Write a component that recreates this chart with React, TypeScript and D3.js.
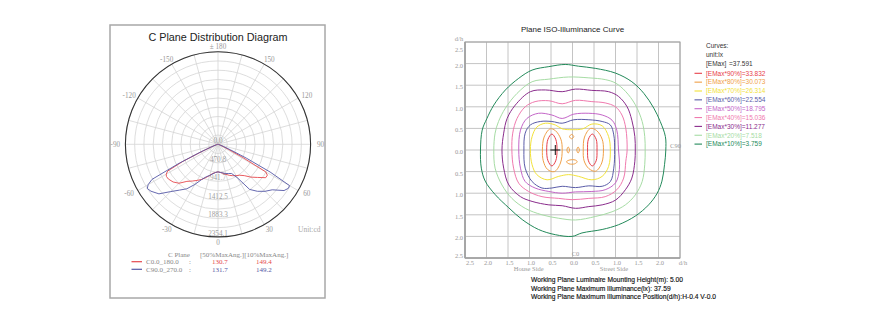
import React from 'react';
import * as d3 from 'd3';

// ---------- Polar (C plane) data ----------
const polarAngles = [0, 5, 10, 15, 20, 25, 30, 35, 40, 45, 50, 55, 58, 60, 62, 64, 66, 68, 70, 75, 80, 90];
const c0Values = [700, 720, 750, 790, 840, 880, 920, 960, 1040, 1180, 1310, 1480, 1480, 1400, 700, 300, 150, 80, 50, 20, 10, 0];
const c180Values = [700, 720, 750, 820, 900, 985, 1060, 1140, 1230, 1400, 1490, 1540, 1545, 1520, 1450, 1000, 450, 200, 100, 40, 15, 0];
const c90Values = [700, 720, 740, 770, 790, 820, 980, 1400, 1560, 1690, 1800, 2050, 2110, 2100, 1500, 800, 350, 160, 80, 30, 12, 0];
const c270Values = [700, 720, 760, 820, 880, 990, 1180, 1380, 1520, 1700, 1960, 2080, 2120, 2050, 1900, 1100, 500, 220, 110, 40, 15, 0];
const polarMax = 2354.1;
const ringLabelValues = [0, 470.8, 941.7, 1412.5, 1883.3, 2354.1];
const ringLabels = ['0.0', '470.8', '941.7', '1412.5', '1883.3', '2354.1'];
const angleTickValues = [0, 30, 60, 90, 120, 150, 180, -150, -120, -90, -60, -30];
const angleTickLabels = ['0', '30', '60', '90', '120', '150', '± 180', '-150', '-120', '-90', '-60', '-30'];
const planeNames = ['C0.0_180.0', 'C90.0_270.0'];
const planeHalf50 = ['130.7', '131.7'];
const planeHalf10 = ['149.4', '149.2'];
const planeColors = ['#e5484d', '#5558a6'];

// ---------- ISO illuminance data (d/h units) ----------
const isoPercents = ['90', '80', '70', '60', '50', '40', '30', '20', '10'];
const isoValues = ['33.832', '30.073', '26.314', '22.554', '18.795', '15.036', '11.277', '7.518', '3.759'];
const isoColors = ['#e8404a', '#f0a048', '#f2e23a', '#5a5ca8', '#c466c8', '#f07aae', '#8a2c8c', '#a6dca4', '#238a5a'];
const eMax = '=37.591';

type P = [number, number];
const iso10: P[] = [[-2.14, 0], [-2.10, 0.46], [-1.99, 0.73], [-1.83, 1.04], [-1.56, 1.39], [-1.25, 1.66], [-0.94, 1.85], [-0.55, 1.93], [-0.17, 1.98], [0.14, 1.94], [0.53, 1.89], [1.00, 1.78], [1.38, 1.58], [1.66, 1.31], [1.89, 0.97], [2.04, 0.66], [2.16, 0.31], [2.17, 0], [2.14, -0.34], [2.08, -0.72], [1.97, -1.0], [1.77, -1.27], [1.46, -1.53], [1.07, -1.73], [0.69, -1.84], [0.22, -1.92], [-0.01, -2.0], [-0.40, -1.96], [-0.79, -1.84], [-1.17, -1.61], [-1.48, -1.34], [-1.80, -1.03], [-2.03, -0.72], [-2.12, -0.42]];
const iso20: P[] = [[-1.83, 0], [-1.80, 0.39], [-1.72, 0.66], [-1.56, 0.97], [-1.29, 1.31], [-0.94, 1.58], [-0.55, 1.64], [-0.09, 1.69], [0.38, 1.67], [0.76, 1.63], [1.00, 1.55], [1.23, 1.36], [1.46, 1.05], [1.62, 0.66], [1.68, 0.31], [1.69, 0], [1.68, -0.34], [1.62, -0.73], [1.46, -1.04], [1.23, -1.27], [0.92, -1.43], [0.53, -1.54], [0.07, -1.62], [-0.32, -1.58], [-0.71, -1.50], [-1.10, -1.35], [-1.41, -1.12], [-1.64, -0.81], [-1.80, -0.42]];
const iso30: P[] = [[-1.64, 0], [-1.60, 0.39], [-1.52, 0.73], [-1.33, 1.04], [-0.98, 1.35], [-0.63, 1.39], [-0.24, 1.35], [0.07, 1.41], [0.45, 1.38], [0.84, 1.35], [1.07, 1.24], [1.27, 1.0], [1.38, 0.69], [1.45, 0.31], [1.46, 0], [1.45, -0.26], [1.38, -0.65], [1.23, -0.92], [1.0, -1.16], [0.69, -1.27], [0.38, -1.31], [0.07, -1.35], [-0.24, -1.29], [-0.55, -1.27], [-0.94, -1.19], [-1.21, -1.08], [-1.48, -0.81], [-1.60, -0.42]];
const iso40: P[] = [[-1.41, 0], [-1.39, 0.39], [-1.29, 0.73], [-1.10, 1.0], [-0.87, 1.12], [-0.55, 1.14], [-0.24, 1.07], [0.07, 1.15], [0.45, 1.12], [0.76, 1.09], [1.0, 1.0], [1.15, 0.81], [1.24, 0.50], [1.27, 0], [1.24, -0.26], [1.19, -0.65], [1.03, -0.92], [0.76, -1.08], [0.38, -1.12], [-0.01, -1.15], [-0.32, -1.12], [-0.71, -1.08], [-1.02, -0.96], [-1.25, -0.77], [-1.37, -0.42]];
const iso50: P[] = [[-1.25, 0], [-1.21, 0.46], [-1.06, 0.73], [-0.79, 0.85], [-0.48, 0.81], [-0.24, 0.73], [0.03, 0.83], [0.38, 0.85], [0.69, 0.81], [0.92, 0.69], [1.03, 0.46], [1.07, 0], [1.09, -0.45], [1.0, -0.76], [0.76, -0.92], [0.45, -0.96], [0.07, -0.97], [-0.24, -1.0], [-0.55, -0.96], [-0.87, -0.88], [-1.10, -0.73], [-1.21, -0.42]];
const iso60: P[] = [[-1.13, 0], [-1.10, 0.39], [-0.98, 0.58], [-0.75, 0.66], [-0.48, 0.66], [-0.24, 0.62], [0.03, 0.70], [0.38, 0.70], [0.69, 0.66], [0.88, 0.58], [0.96, 0.35], [0.98, 0], [0.96, -0.42], [0.88, -0.73], [0.69, -0.84], [0.38, -0.83], [0.07, -0.87], [-0.24, -0.84], [-0.48, -0.88], [-0.71, -0.88], [-0.94, -0.73], [-1.10, -0.42]];
const iso70: P[] = [[-0.98, 0], [-0.94, 0.31], [-0.83, 0.53], [-0.63, 0.62], [-0.40, 0.58], [-0.24, 0.49], [0.0, 0.47], [0.24, 0.49], [0.45, 0.60], [0.69, 0.56], [0.84, 0.31], [0.88, 0], [0.84, -0.38], [0.69, -0.61], [0.45, -0.69], [0.14, -0.61], [-0.09, -0.57], [-0.32, -0.61], [-0.59, -0.69], [-0.83, -0.57], [-0.94, -0.34]];
const iso80Left: P[] = [[-0.70, 0], [-0.66, 0.3], [-0.52, 0.49], [-0.40, 0.45], [-0.27, 0.25], [-0.24, 0], [-0.28, -0.3], [-0.42, -0.5], [-0.58, -0.45], [-0.68, -0.25]];
const iso80Right: P[] = [[0.25, 0], [0.28, 0.3], [0.42, 0.5], [0.56, 0.45], [0.69, 0.25], [0.72, 0], [0.68, -0.3], [0.54, -0.49], [0.38, -0.43], [0.27, -0.25]];
const iso80Spots: P[][] = [
  [[-0.07, 0.31], [-0.02, 0.36], [0.03, 0.31], [-0.02, 0.26]],
  [[-0.13, 0.0], [-0.10, 0.07], [-0.07, 0.0], [-0.10, -0.07]],
  [[0.10, 0.0], [0.13, 0.07], [0.16, 0.0], [0.13, -0.07]],
  [[-0.14, -0.27], [-0.06, -0.23], [0.06, -0.23], [0.11, -0.27], [0.05, -0.32], [-0.08, -0.32]],
];
const iso90Left: P[] = [[-0.60, 0], [-0.57, 0.25], [-0.48, 0.37], [-0.39, 0.25], [-0.36, 0], [-0.39, -0.25], [-0.48, -0.37], [-0.57, -0.25]];
const iso90Right: P[] = [[0.35, 0], [0.37, 0.25], [0.46, 0.37], [0.55, 0.25], [0.57, 0], [0.55, -0.25], [0.46, -0.37], [0.37, -0.25]];
const maxPos: P = [-0.4, 0];
const axisTicks = [-2.5, -2, -1.5, -1, -0.5, 0, 0.5, 1, 1.5, 2, 2.5];
const infoLines = [
  'Working Plane Luminaire Mounting Height(m): 5.00',
  'Working Plane Maximum Illuminance(lx): 37.59',
  'Working Plane Maximum Illuminance Position(d/h):H-0.4 V-0.0',
];

const SERIF = "'Liberation Serif', 'DejaVu Serif', serif";
const SANS = "'Liberation Sans', Arial, sans-serif";

function PolarPanel() {
  const cx = 218, cy = 144.3, R = 92.6;
  const r = d3.scaleLinear().domain([0, polarMax]).range([0, R]);
  const ringStep = polarMax / 10;
  const rings = d3.range(1, 11).map((i) => i * ringStep);
  const spokes = d3.range(0, 360, 15);
  const radial = d3
    .lineRadial<{ t: number; v: number }>()
    .angle((d) => Math.PI - (d.t * Math.PI) / 180)
    .radius((d) => r(d.v));
  const build = (left: number[], right: number[]) => {
    const pts: { t: number; v: number }[] = [];
    for (let i = polarAngles.length - 1; i >= 0; i--) pts.push({ t: -polarAngles[i], v: left[i] });
    for (let i = 1; i < polarAngles.length; i++) pts.push({ t: polarAngles[i], v: right[i] });
    return pts;
  };
  const planes = [build(c180Values, c0Values), build(c270Values, c90Values)];
  return (
    <g>
      <rect x={110} y={25} width={215} height={273} fill="#fff" stroke="#a8a8a8" strokeWidth={1.5} />
      <text x={218} y={41} textAnchor="middle" fontFamily={SANS} fontSize={10.8} fill="#222">
        C Plane Distribution Diagram
      </text>
      <g transform={`translate(${cx},${cy})`}>
        {rings.map((v, i) => (
          <circle key={i} r={r(v)} fill="none" stroke="#d4d4d4" strokeWidth={0.8} />
        ))}
        {spokes.map((a) => (
          <line
            key={a}
            x1={0}
            y1={0}
            x2={R * Math.sin((a * Math.PI) / 180)}
            y2={R * Math.cos((a * Math.PI) / 180)}
            stroke="#d4d4d4"
            strokeWidth={0.8}
          />
        ))}
        <circle r={R} fill="none" stroke="#333" strokeWidth={1.1} />
        {ringLabelValues.map((v, i) => (
          <text key={i} x={0} y={r(v) - 1} textAnchor="middle" fontFamily={SERIF} fontSize={7.2} fill="#a0a0a0">
            {ringLabels[i]}
          </text>
        ))}
        {angleTickValues.map((a, i) => {
          const rad = (a * Math.PI) / 180;
          return (
            <text
              key={i}
              x={(R + 10) * Math.sin(rad)}
              y={(R + 5.5) * Math.cos(rad) + 2.5}
              textAnchor="middle"
              fontFamily={SERIF}
              fontSize={7.2}
              fill="#999"
            >
              {angleTickLabels[i]}
            </text>
          );
        })}
        {planes.map((pts, i) => (
          <path key={i} d={radial(pts) || ''} fill="none" stroke={planeColors[i]} strokeWidth={0.9} />
        ))}
      </g>
      <text x={298} y={231.5} fontFamily={SERIF} fontSize={7.5} fill="#aaa">
        Unit:cd
      </text>
      <text x={168} y={256.5} fontFamily={SERIF} fontSize={7} fill="#888">
        C Plane
      </text>
      <text x={200} y={256.5} fontFamily={SERIF} fontSize={7} fill="#888">
        [50%MaxAng.][10%MaxAng.]
      </text>
      {planeNames.map((n, i) => {
        const y = 261.7 + i * 7.6;
        return (
          <g key={i}>
            <line x1={131.5} x2={142} y1={y} y2={y} stroke={planeColors[i]} strokeWidth={1.2} />
            <text x={146} y={y + 2.5} fontFamily={SERIF} fontSize={7} fill="#888">
              {n}
            </text>
            <text x={189} y={y + 2.5} fontFamily={SERIF} fontSize={7} fill="#888">
              :
            </text>
            <text x={212} y={y + 2.5} fontFamily={SERIF} fontSize={7} fill={planeColors[i]}>
              {planeHalf50[i]}
            </text>
            <text x={256} y={y + 2.5} fontFamily={SERIF} fontSize={7} fill={planeColors[i]}>
              {planeHalf10[i]}
            </text>
          </g>
        );
      })}
    </g>
  );
}

function IsoPanel() {
  const x = d3.scaleLinear().domain([-2.5, 2.5]).range([465, 680]);
  const y = d3.scaleLinear().domain([-2.5, 2.5]).range([258, 42]);
  const line = d3
    .line<P>()
    .x((d) => x(d[0]))
    .y((d) => y(d[1]))
    .curve(d3.curveCatmullRomClosed.alpha(0.5));
  const contours: { pts: P[]; color: string }[] = [
    { pts: iso10, color: isoColors[8] },
    { pts: iso20, color: isoColors[7] },
    { pts: iso30, color: isoColors[6] },
    { pts: iso40, color: isoColors[5] },
    { pts: iso50, color: isoColors[4] },
    { pts: iso60, color: isoColors[3] },
    { pts: iso70, color: isoColors[2] },
    { pts: iso80Left, color: isoColors[1] },
    { pts: iso80Right, color: isoColors[1] },
    ...iso80Spots.map((s) => ({ pts: s, color: isoColors[1] })),
    { pts: iso90Left, color: isoColors[0] },
    { pts: iso90Right, color: isoColors[0] },
  ];
  const fmt = (v: number) => Math.abs(v).toFixed(1);
  const mx = x(maxPos[0]), my = y(maxPos[1]);
  return (
    <g>
      <text x={572.5} y={32} textAnchor="middle" fontFamily={SANS} fontSize={8} fill="#222">
        Plane ISO-Illuminance Curve
      </text>
      {axisTicks.map((t) => (
        <line key={'v' + t} x1={x(t)} x2={x(t)} y1={y(2.5)} y2={y(-2.5)} stroke="#c4c4c4" strokeWidth={1} />
      ))}
      {axisTicks.map((t) => (
        <line key={'h' + t} x1={x(-2.5)} x2={x(2.5)} y1={y(t)} y2={y(t)} stroke="#c4c4c4" strokeWidth={1} />
      ))}
      <rect x={x(-2.5)} y={y(2.5)} width={x(2.5) - x(-2.5)} height={y(-2.5) - y(2.5)} fill="none" stroke="#a0a0a0" strokeWidth={1} />
      <line x1={x(-2.5)} x2={x(-2.5)} y1={y(2.5)} y2={y(-2.5)} stroke="#a0a0a0" strokeWidth={1.6} />
      <line x1={x(-2.5)} x2={x(2.5)} y1={y(-2.5)} y2={y(-2.5)} stroke="#a0a0a0" strokeWidth={1.6} />
      {contours.map((c, i) => (
        <path key={i} d={line(c.pts) || ''} fill="none" stroke={c.color} strokeWidth={1} />
      ))}
      <line x1={mx - 5} x2={mx + 5} y1={my} y2={my} stroke="#111" strokeWidth={1} />
      <line x1={mx} x2={mx} y1={my - 5} y2={my + 5} stroke="#111" strokeWidth={1} />
      {axisTicks.map((t) => (
        <text
          key={'yl' + t}
          x={459}
          y={(t === 2.5 ? y(t) + 8 : t === -2.5 ? y(t) - 2 : y(t) + 1.8) + 2.2}
          textAnchor="middle"
          fontFamily={SERIF}
          fontSize={6.5}
          fill="#999"
        >
          {fmt(t)}
        </text>
      ))}
      <text x={459} y={41} textAnchor="middle" fontFamily={SERIF} fontSize={6.5} fill="#999">
        d/h
      </text>
      {axisTicks.map((t) => (
        <text
          key={'xl' + t}
          x={t === -2.5 ? x(t) + 5 : t === 2.5 ? x(t) + 3 : x(t) + 1.5}
          y={265}
          textAnchor="middle"
          fontFamily={SERIF}
          fontSize={6.5}
          fill="#999"
        >
          {t === 2.5 ? 'd/h' : fmt(t)}
        </text>
      ))}
      <text x={528.7} y={270.5} textAnchor="middle" fontFamily={SERIF} fontSize={6.5} fill="#999">
        House Side
      </text>
      <text x={614} y={270.5} textAnchor="middle" fontFamily={SERIF} fontSize={6.5} fill="#999">
        Street Side
      </text>
      <text x={675.5} y={148} textAnchor="middle" fontFamily={SERIF} fontSize={6.5} fill="#999">
        C90
      </text>
      <text x={575.5} y={256} textAnchor="middle" fontFamily={SERIF} fontSize={6.5} fill="#999">
        C0
      </text>
      <text x={706} y={48.3} fontFamily={SANS} fontSize={6.5} fill="#333">Curves:</text>
      <text x={706} y={57.2} fontFamily={SANS} fontSize={6.5} fill="#333">unit:lx</text>
      <text x={706} y={66.1} fontFamily={SANS} fontSize={6.5} fill="#333">[EMax]</text>
      <text x={729} y={66.1} fontFamily={SANS} fontSize={6.5} fill="#333">{eMax}</text>
      {isoPercents.map((p, i) => {
        const ly = 73.3 + i * 8.85;
        return (
          <g key={p}>
            <line x1={694.5} x2={702} y1={ly} y2={ly} stroke={isoColors[i]} strokeWidth={1.1} />
            <text x={706} y={ly + 2.3} fontFamily={SANS} fontSize={6.5} fill={isoColors[i]}>
              {`[EMax*${p}%]=${isoValues[i]}`}
            </text>
          </g>
        );
      })}
      {infoLines.map((s, i) => (
        <text key={i} x={531} y={282.2 + i * 8.35} fontFamily={SANS} fontSize={6.7} fill="#111" stroke="#111" strokeWidth={0.15}>
          {s}
        </text>
      ))}
    </g>
  );
}

export default function App() {
  return (
    <svg
      width={894}
      height={316}
      viewBox="0 0 894 316"
      style={{ position: 'absolute', left: 0, top: 0, background: '#fff' }}
    >
      <rect x={0} y={0} width={894} height={316} fill="#fff" />
      <PolarPanel />
      <IsoPanel />
    </svg>
  );
}
